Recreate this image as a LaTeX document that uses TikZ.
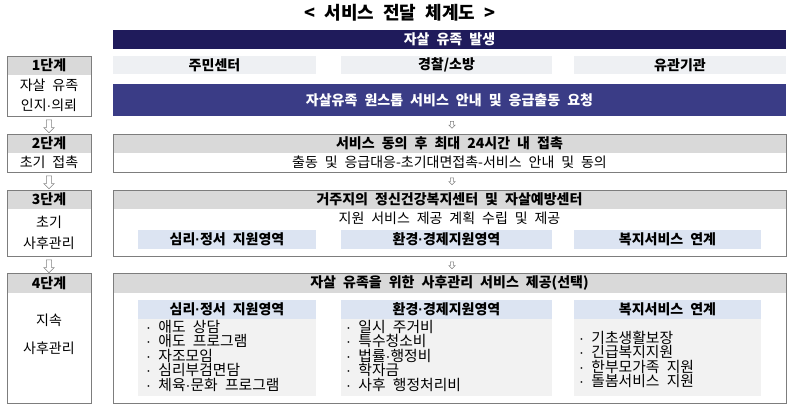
\documentclass[tikz,border=0pt]{standalone}
\usepackage{fontspec}
\setmainfont{Noto Sans CJK KR}[WordSpace=2.2]
\newfontfamily\latinfont{Liberation Sans}
\newcommand\md{{\latinfont\char"00B7}}
\usetikzlibrary{fit,shapes.arrows}
\definecolor{navyA}{RGB}{31,27,91}
\definecolor{navyB}{RGB}{58,60,134}
\definecolor{headgray}{RGB}{217,217,217}
\definecolor{rowgray}{RGB}{238,240,243}
\definecolor{subblue}{RGB}{220,228,242}
\definecolor{bodygray}{RGB}{242,242,242}
\definecolor{bordergray}{RGB}{125,125,125}
\tikzset{
  area/.style={inner sep=0pt, outer sep=0pt, rectangle},
  frame/.style={area, draw=bordergray, line width=0.7pt},
  bartxt/.style={text=white, font=\fontsize{14}{16}\selectfont\bfseries},
  headtxt/.style={font=\fontsize{14}{16}\selectfont\bfseries},
  plaintxt/.style={font=\fontsize{14}{16}\selectfont},
  stagetxt/.style={font=\fontsize{14}{19.5}\selectfont, align=center},
  listtxt/.style={font=\fontsize{14.8}{14.5}\selectfont, align=left, anchor=north west, inner sep=0pt},
  downarrow/.style={single arrow, draw=gray, fill=white, line width=0.5pt, shape border rotate=270, inner sep=0pt},
  bigarrow/.style={downarrow, minimum height=13pt, minimum width=10pt, single arrow head extend=2.6pt, inner xsep=2.4pt},
  smallarrow/.style={downarrow, minimum height=7pt, minimum width=6pt, single arrow head extend=1.5pt, inner xsep=1.4pt},
}
\begin{document}
\begin{tikzpicture}[x=1pt,y=-1pt]
\useasboundingbox (0,0) rectangle (800,412);
% title
\node[font=\fontsize{18}{20}\selectfont\bfseries] (title) at (400,13) {< 서비스 전달 체계도 >};
% top bars
\node[area, fill=navyA, fit={(113,30) (786,49)}] (occur) {};
\node[bartxt] (occurt) at (occur.center) {자살 유족 발생};
\node[area, fill=rowgray, fit={(113,56) (316,74)}] (org1) {};
\node[headtxt] (org1t) at (org1.center) {주민센터};
\node[area, fill=rowgray, fit={(341,56) (552,74)}] (org2) {};
\node[headtxt] (org2t) at (org2.center) {경찰/소방};
\node[area, fill=rowgray, fit={(574,56) (786,74)}] (org3) {};
\node[headtxt] (org3t) at (org3.center) {유관기관};
\node[area, fill=navyB, fit={(113,84) (786,116)}] (onestop) {};
\node[bartxt] (onestopt) at (onestop.center) {자살유족 원스톱 서비스 안내 및 응급출동 요청};
% stage 1 left
\node[area, fill=headgray, fit={(7,56) (91,75)}] (s1h) {};
\node[headtxt] (s1ht) at (s1h.center) {1단계};
\node[frame, fit={(7,56) (91,116)}] (s1) {};
\node[stagetxt] (s1t) at (49,95.5) {자살 유족\\인지\md 의뢰};
% arrows 1-2
\node[bigarrow] (a1l) at (49,125) {};
\node[smallarrow] (a1m) at (452,124) {};
% stage 2
\node[area, fill=headgray, fit={(7,134) (91,153)}] (s2h) {};
\node[headtxt] (s2ht) at (s2h.center) {2단계};
\node[frame, fit={(7,134) (91,172)}] (s2) {};
\node[plaintxt] (s2t) at (49,162.5) {초기 접촉};
\node[area, fill=headgray, fit={(113,134) (786,153)}] (r2h) {};
\node[headtxt] (r2ht) at (r2h.center) {서비스 동의 후 최대 24시간 내 접촉};
\node[frame, fit={(113,134) (786,172)}] (r2) {};
\node[plaintxt] (r2t) at (449.5,162.5) {출동 및 응급대응-초기대면접촉-서비스 안내 및 동의};
% arrows 2-3
\node[bigarrow] (a2l) at (49,181) {};
\node[smallarrow] (a2m) at (452,180.5) {};
% stage 3
\node[area, fill=headgray, fit={(7,190) (91,209)}] (s3h) {};
\node[headtxt] (s3ht) at (s3h.center) {3단계};
\node[frame, fit={(7,190) (91,256)}] (s3) {};
\node[stagetxt, font=\fontsize{14}{21}\selectfont] (s3t) at (49,232.5) {초기\\사후관리};
\node[area, fill=headgray, fit={(113,190) (786,209)}] (r3h) {};
\node[headtxt] (r3ht) at (r3h.center) {거주지의 정신건강복지센터 및 자살예방센터};
\node[frame, fit={(113,190) (786,256)}] (r3) {};
\node[plaintxt] (r3t) at (449.5,218.5) {지원 서비스 제공 계획 수립 및 제공};
\node[area, fill=subblue, fit={(138,230) (316,249)}] (r3a) {};
\node[headtxt] (r3at) at (r3a.center) {심리\md 정서 지원영역};
\node[area, fill=subblue, fit={(341,230) (552,249)}] (r3b) {};
\node[headtxt] (r3bt) at (r3b.center) {환경\md 경제지원영역};
\node[area, fill=subblue, fit={(574,230) (761,249)}] (r3c) {};
\node[headtxt] (r3ct) at (r3c.center) {복지서비스 연계};
% arrows 3-4
\node[bigarrow] (a3l) at (49,265) {};
\node[smallarrow] (a3m) at (452,264.5) {};
% stage 4
\node[area, fill=headgray, fit={(7,273) (91,293)}] (s4h) {};
\node[headtxt] (s4ht) at (s4h.center) {4단계};
\node[frame, fit={(7,273) (91,403)}] (s4) {};
\node[stagetxt, font=\fontsize{14}{28}\selectfont] (s4t) at (49,334) {지속\\사후관리};
\node[area, fill=headgray, fit={(113,273) (786,293)}] (r4h) {};
\node[headtxt] (r4ht) at (r4h.center) {자살 유족을 위한 사후관리 서비스 제공(선택)};
\node[frame, fit={(113,273) (786,403)}] (r4) {};
% columns
\node[area, fill=bodygray, fit={(138,300) (316,396)}] (c1) {};
\node[area, fill=subblue, fit={(138,300) (316,319)}] (c1h) {};
\node[headtxt] (c1ht) at (c1h.center) {심리\md 정서 지원영역};
\node[area, fill=bodygray, fit={(341,300) (552,396)}] (c2) {};
\node[area, fill=subblue, fit={(341,300) (552,319)}] (c2h) {};
\node[headtxt] (c2ht) at (c2h.center) {환경\md 경제지원영역};
\node[area, fill=bodygray, fit={(574,300) (761,396)}] (c3) {};
\node[area, fill=subblue, fit={(574,300) (761,319)}] (c3h) {};
\node[headtxt] (c3ht) at (c3h.center) {복지서비스 연계};
\node[listtxt] (c1l) at (146,320) {\md\ 애도 상담\\\md\ 애도 프로그램\\\md\ 자조모임\\\md\ 심리부검면담\\\md\ 체육\md 문화 프로그램};
\node[listtxt] (c2l) at (346,320) {\md\ 일시 주거비\\\md\ 특수청소비\\\md\ 법률\md 행정비\\\md\ 학자금\\\md\ 사후 행정처리비};
\node[listtxt] (c3l) at (579,330.5) {\md\ 기초생활보장\\\md\ 긴급복지지원\\\md\ 한부모가족 지원\\\md\ 돌봄서비스 지원};
\end{tikzpicture}
\end{document}
